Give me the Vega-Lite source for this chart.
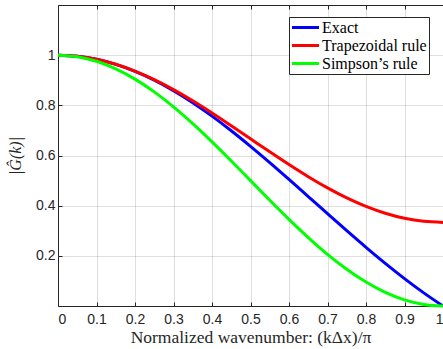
{
  "$schema": "https://vega.github.io/schema/vega-lite/v6.json",
  "width": 385,
  "height": 301,
  "autosize": {"type": "none"},
  "padding": {"left": 58, "top": 5, "right": 0, "bottom": 43},
  "background": "white",
  "config": {
    "view": {"stroke": null},
    "axis": {
      "labelFont": "Liberation Sans",
      "labelFontSize": 14,
      "labelColor": "#262626",
      "domainColor": "#262626",
      "tickColor": "#262626",
      "gridColor": "#262626",
      "gridOpacity": 0.15,
      "titleFont": "Liberation Serif",
      "titleFontWeight": "normal",
      "titleColor": "#262626",
      "titleFontSize": 17.5
    }
  },
  "data": {"values": [
    {"x": 0, "y": 1, "s": "Exact"},
    {"x": 0.05, "y": 0.99589, "s": "Exact"},
    {"x": 0.1, "y": 0.98364, "s": "Exact"},
    {"x": 0.15, "y": 0.9634, "s": "Exact"},
    {"x": 0.2, "y": 0.93549, "s": "Exact"},
    {"x": 0.25, "y": 0.90032, "s": "Exact"},
    {"x": 0.3, "y": 0.85839, "s": "Exact"},
    {"x": 0.35, "y": 0.81033, "s": "Exact"},
    {"x": 0.4, "y": 0.75683, "s": "Exact"},
    {"x": 0.45, "y": 0.69865, "s": "Exact"},
    {"x": 0.5, "y": 0.63662, "s": "Exact"},
    {"x": 0.55, "y": 0.57162, "s": "Exact"},
    {"x": 0.6, "y": 0.50455, "s": "Exact"},
    {"x": 0.65, "y": 0.43633, "s": "Exact"},
    {"x": 0.7, "y": 0.36788, "s": "Exact"},
    {"x": 0.75, "y": 0.30011, "s": "Exact"},
    {"x": 0.8, "y": 0.23387, "s": "Exact"},
    {"x": 0.85, "y": 0.17001, "s": "Exact"},
    {"x": 0.9, "y": 0.10929, "s": "Exact"},
    {"x": 0.95, "y": 0.05241, "s": "Exact"},
    {"x": 1, "y": 0, "s": "Exact"},
    {"x": 0, "y": 1, "s": "Trapezoidal rule"},
    {"x": 0.05, "y": 0.9959, "s": "Trapezoidal rule"},
    {"x": 0.1, "y": 0.98369, "s": "Trapezoidal rule"},
    {"x": 0.15, "y": 0.96367, "s": "Trapezoidal rule"},
    {"x": 0.2, "y": 0.93634, "s": "Trapezoidal rule"},
    {"x": 0.25, "y": 0.90237, "s": "Trapezoidal rule"},
    {"x": 0.3, "y": 0.8626, "s": "Trapezoidal rule"},
    {"x": 0.35, "y": 0.818, "s": "Trapezoidal rule"},
    {"x": 0.4, "y": 0.76967, "s": "Trapezoidal rule"},
    {"x": 0.45, "y": 0.71881, "s": "Trapezoidal rule"},
    {"x": 0.5, "y": 0.66667, "s": "Trapezoidal rule"},
    {"x": 0.55, "y": 0.61452, "s": "Trapezoidal rule"},
    {"x": 0.6, "y": 0.56366, "s": "Trapezoidal rule"},
    {"x": 0.65, "y": 0.51534, "s": "Trapezoidal rule"},
    {"x": 0.7, "y": 0.47074, "s": "Trapezoidal rule"},
    {"x": 0.75, "y": 0.43096, "s": "Trapezoidal rule"},
    {"x": 0.8, "y": 0.39699, "s": "Trapezoidal rule"},
    {"x": 0.85, "y": 0.36966, "s": "Trapezoidal rule"},
    {"x": 0.9, "y": 0.34965, "s": "Trapezoidal rule"},
    {"x": 0.95, "y": 0.33744, "s": "Trapezoidal rule"},
    {"x": 1, "y": 0.33333, "s": "Trapezoidal rule"},
    {"x": 0, "y": 1, "s": "Simpson’s rule"},
    {"x": 0.05, "y": 0.99384, "s": "Simpson’s rule"},
    {"x": 0.1, "y": 0.97553, "s": "Simpson’s rule"},
    {"x": 0.15, "y": 0.9455, "s": "Simpson’s rule"},
    {"x": 0.2, "y": 0.90451, "s": "Simpson’s rule"},
    {"x": 0.25, "y": 0.85355, "s": "Simpson’s rule"},
    {"x": 0.3, "y": 0.79389, "s": "Simpson’s rule"},
    {"x": 0.35, "y": 0.727, "s": "Simpson’s rule"},
    {"x": 0.4, "y": 0.65451, "s": "Simpson’s rule"},
    {"x": 0.45, "y": 0.57822, "s": "Simpson’s rule"},
    {"x": 0.5, "y": 0.5, "s": "Simpson’s rule"},
    {"x": 0.55, "y": 0.42178, "s": "Simpson’s rule"},
    {"x": 0.6, "y": 0.34549, "s": "Simpson’s rule"},
    {"x": 0.65, "y": 0.273, "s": "Simpson’s rule"},
    {"x": 0.7, "y": 0.20611, "s": "Simpson’s rule"},
    {"x": 0.75, "y": 0.14645, "s": "Simpson’s rule"},
    {"x": 0.8, "y": 0.09549, "s": "Simpson’s rule"},
    {"x": 0.85, "y": 0.0545, "s": "Simpson’s rule"},
    {"x": 0.9, "y": 0.02447, "s": "Simpson’s rule"},
    {"x": 0.95, "y": 0.00616, "s": "Simpson’s rule"},
    {"x": 1, "y": 0, "s": "Simpson’s rule"}
  ]},
  "resolve": {"axis": {"x": "independent"}},
  "layer": [
    {
      "mark": {"type": "line", "strokeWidth": 3, "interpolate": "monotone", "clip": false},
      "encoding": {
        "x": {
          "field": "x", "type": "quantitative",
          "scale": {"domain": [0, 1], "nice": false, "zero": false},
          "axis": {
            "values": [0, 0.1, 0.2, 0.3, 0.4, 0.5, 0.6, 0.7, 0.8, 0.9, 1],
            "format": "~g",
            "tickSize": -4,
            "labelPadding": 10,
            "title": "Normalized wavenumber: (kΔx)/π",
            "titlePadding": 2
          }
        },
        "y": {
          "field": "y", "type": "quantitative",
          "scale": {"domain": [0, 1.2], "nice": false},
          "axis": {
            "values": [0.2, 0.4, 0.6, 0.8, 1],
            "format": "~g",
            "tickSize": -4,
            "labelPadding": 7,
            "title": "|Ĝ(k)|",
            "titleFontStyle": "italic",
            "titleFontSize": 16,
            "titlePadding": 12
          }
        },
        "color": {
          "field": "s", "type": "nominal",
          "scale": {
            "domain": ["Exact", "Trapezoidal rule", "Simpson’s rule"],
            "range": ["#0000FF", "#FF0000", "#00FF00"]
          },
          "legend": {
            "title": null,
            "orient": "none",
            "legendX": 231,
            "legendY": 12,
            "fillColor": "white",
            "strokeColor": "#262626",
            "padding": 2,
            "symbolType": "M-2,0H2",
            "symbolStrokeWidth": 3,
            "symbolSize": 182,
            "symbolOffset": 6,
            "labelFont": "Liberation Serif",
            "labelFontSize": 16,
            "labelColor": "#000000",
            "labelOffset": 8,
            "rowPadding": 1
          }
        }
      }
    },
    {
      "mark": {"type": "line", "opacity": 0},
      "encoding": {
        "x": {
          "field": "x", "type": "quantitative",
          "axis": {
            "orient": "top",
            "values": [0, 0.1, 0.2, 0.3, 0.4, 0.5, 0.6, 0.7, 0.8, 0.9, 1],
            "labels": false,
            "grid": false,
            "tickSize": -4,
            "title": null
          }
        },
        "y": {"field": "y", "type": "quantitative"},
        "detail": {"field": "s", "type": "nominal"}
      }
    }
  ]
}
